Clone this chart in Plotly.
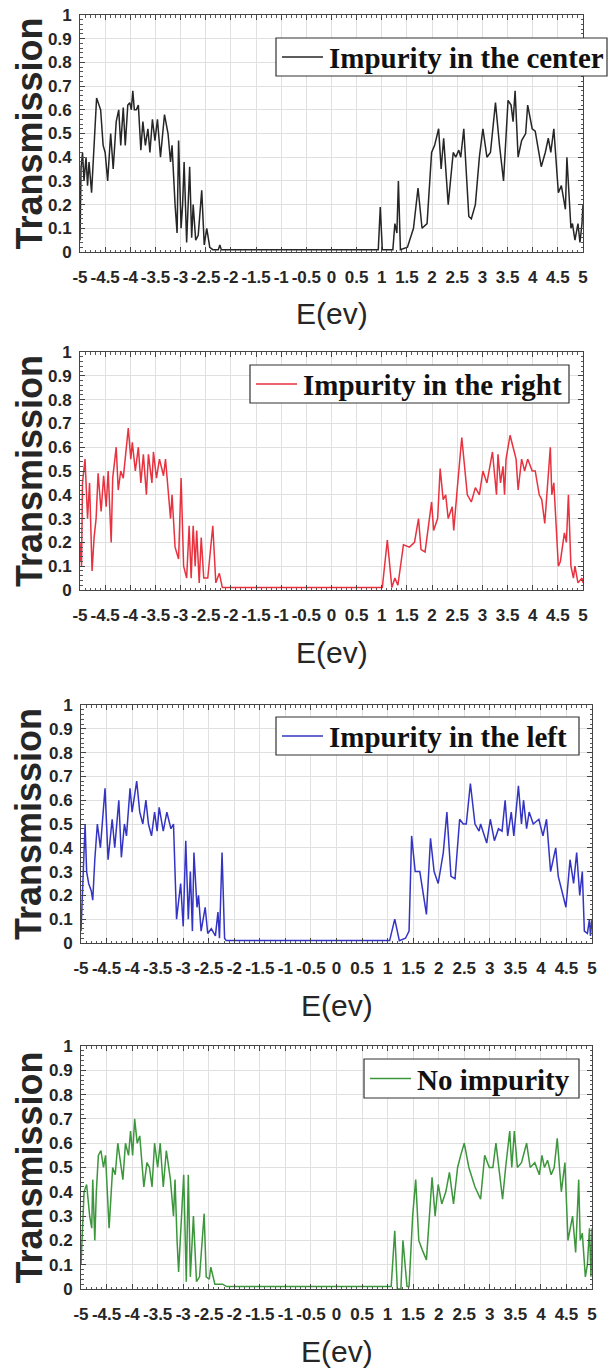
import plotly.graph_objects as go

W, H = 608, 1372

# ---------------- data ----------------
E_center = [-5.00, -4.98, -4.95, -4.92, -4.88, -4.85, -4.82, -4.77, -4.67, -4.59, -4.54, -4.50,
            -4.45, -4.39, -4.34, -4.28, -4.23, -4.19, -4.14, -4.10, -4.05, -4.01, -3.98, -3.95,
            -3.92, -3.88, -3.84, -3.79, -3.75, -3.70, -3.65, -3.61, -3.56, -3.51, -3.46, -3.40,
            -3.32, -3.25, -3.20, -3.17, -3.11, -3.07, -3.04, -2.99, -2.96, -2.93, -2.88, -2.82,
            -2.78, -2.75, -2.70, -2.65, -2.58, -2.53, -2.48, -2.42, -2.36, -2.25, -2.22, -2.19,
            0.93, 0.97, 1.01, 1.22, 1.26, 1.30, 1.33, 1.37, 1.51, 1.63, 1.72, 1.80, 1.90, 1.99,
            2.05, 2.13, 2.18, 2.23, 2.32, 2.42, 2.47, 2.53, 2.57, 2.63, 2.73, 2.78, 2.86, 2.94,
            3.01, 3.09, 3.16, 3.26, 3.34, 3.42, 3.51, 3.57, 3.61, 3.65, 3.71, 3.78, 3.86, 3.90,
            3.99, 4.05, 4.17, 4.25, 4.31, 4.36, 4.42, 4.51, 4.57, 4.65, 4.68, 4.76, 4.79, 4.84,
            4.90, 4.94, 4.98, 5.00]
T_center = [0.05, 0.35, 0.42, 0.30, 0.40, 0.28, 0.38, 0.25, 0.65, 0.60, 0.45, 0.42,
            0.30, 0.50, 0.35, 0.55, 0.60, 0.45, 0.61, 0.45, 0.62, 0.63, 0.60, 0.68,
            0.60, 0.60, 0.62, 0.43, 0.55, 0.45, 0.52, 0.42, 0.56, 0.47, 0.56, 0.40,
            0.58, 0.50, 0.38, 0.45, 0.20, 0.08, 0.47, 0.10, 0.20, 0.38, 0.04, 0.36,
            0.06, 0.20, 0.05, 0.07, 0.26, 0.03, 0.10, 0.02, 0.01, 0.01, 0.03, 0.01,
            0.01, 0.19, 0.01, 0.01, 0.12, 0.08, 0.30, 0.01, 0.02, 0.10, 0.27, 0.10, 0.12, 0.42,
            0.45, 0.52, 0.35, 0.48, 0.20, 0.42, 0.40, 0.43, 0.40, 0.52, 0.15, 0.14, 0.20, 0.40,
            0.52, 0.40, 0.42, 0.63, 0.45, 0.30, 0.64, 0.62, 0.55, 0.68, 0.40, 0.47, 0.50, 0.62,
            0.52, 0.51, 0.36, 0.42, 0.48, 0.42, 0.52, 0.25, 0.28, 0.18, 0.40, 0.10, 0.12, 0.05,
            0.12, 0.04, 0.12, 0.20]

E_right = [-5.00, -4.98, -4.97, -4.95, -4.90, -4.85, -4.81, -4.76, -4.72, -4.68, -4.64, -4.58,
           -4.53, -4.48, -4.44, -4.38, -4.35, -4.28, -4.24, -4.19, -4.14, -4.10, -4.04, -3.99,
           -3.96, -3.90, -3.84, -3.79, -3.74, -3.68, -3.64, -3.57, -3.54, -3.48, -3.42, -3.34,
           -3.30, -3.20, -3.17, -3.11, -3.04, -2.99, -2.94, -2.88, -2.83, -2.79, -2.75, -2.71,
           -2.68, -2.63, -2.59, -2.54, -2.46, -2.36, -2.30, -2.23, -2.17,
           1.01, 1.11, 1.20, 1.26, 1.32, 1.43, 1.55, 1.65, 1.73, 1.78, 1.86, 1.99, 2.03, 2.11,
           2.16, 2.22, 2.27, 2.32, 2.40, 2.43, 2.51, 2.59, 2.70, 2.78, 2.86, 2.94, 3.01, 3.09,
           3.20, 3.28, 3.31, 3.36, 3.41, 3.44, 3.47, 3.55, 3.61, 3.67, 3.71, 3.78, 3.84, 3.90,
           3.99, 4.05, 4.13, 4.18, 4.24, 4.35, 4.38, 4.42, 4.51, 4.55, 4.63, 4.67, 4.71, 4.76,
           4.81, 4.84, 4.90, 4.98, 5.00]
T_right = [0.12, 0.20, 0.10, 0.45, 0.55, 0.30, 0.45, 0.08, 0.22, 0.30, 0.49, 0.33,
           0.48, 0.35, 0.50, 0.20, 0.47, 0.60, 0.42, 0.50, 0.47, 0.55, 0.68, 0.55,
           0.62, 0.50, 0.60, 0.45, 0.57, 0.40, 0.57, 0.45, 0.58, 0.47, 0.55, 0.48,
           0.55, 0.30, 0.40, 0.18, 0.13, 0.47, 0.10, 0.05, 0.27, 0.05, 0.27, 0.10,
           0.25, 0.03, 0.22, 0.05, 0.05, 0.27, 0.03, 0.07, 0.01,
           0.01, 0.21, 0.01, 0.05, 0.02, 0.19, 0.18, 0.20, 0.30, 0.17, 0.16, 0.37, 0.25, 0.30,
           0.51, 0.38, 0.40, 0.30, 0.35, 0.25, 0.45, 0.64, 0.40, 0.37, 0.43, 0.40, 0.50, 0.45,
           0.58, 0.40, 0.57, 0.45, 0.52, 0.40, 0.55, 0.65, 0.60, 0.55, 0.42, 0.55, 0.50, 0.55,
           0.50, 0.50, 0.40, 0.38, 0.28, 0.60, 0.40, 0.45, 0.10, 0.12, 0.24, 0.20, 0.40, 0.10,
           0.05, 0.10, 0.03, 0.05, 0.03]

E_left = [-5.00, -4.97, -4.92, -4.89, -4.85, -4.80, -4.77, -4.73, -4.68, -4.62, -4.53, -4.47,
          -4.39, -4.34, -4.26, -4.21, -4.15, -4.11, -4.04, -4.00, -3.91, -3.85, -3.79, -3.73,
          -3.68, -3.62, -3.56, -3.51, -3.47, -3.39, -3.32, -3.24, -3.19, -3.13, -3.05, -3.00,
          -2.95, -2.90, -2.86, -2.82, -2.79, -2.73, -2.70, -2.65, -2.57, -2.52, -2.45, -2.37,
          -2.32, -2.29, -2.24, -2.19, -2.16,
          1.04, 1.14, 1.23, 1.35, 1.42, 1.47, 1.54, 1.63, 1.76, 1.84, 1.91, 1.99, 2.09, 2.16,
          2.24, 2.32, 2.41, 2.48, 2.54, 2.62, 2.71, 2.79, 2.82, 2.94, 3.01, 3.09, 3.17, 3.24,
          3.30, 3.35, 3.42, 3.47, 3.56, 3.62, 3.66, 3.72, 3.77, 3.85, 3.96, 4.04, 4.11, 4.19,
          4.29, 4.34, 4.49, 4.57, 4.64, 4.70, 4.76, 4.81, 4.85, 4.91, 4.95, 4.97, 5.00]
T_left = [0.05, 0.20, 0.50, 0.30, 0.25, 0.22, 0.18, 0.35, 0.50, 0.40, 0.65, 0.35,
          0.52, 0.40, 0.60, 0.36, 0.50, 0.45, 0.65, 0.55, 0.68, 0.55, 0.50, 0.60,
          0.50, 0.45, 0.55, 0.47, 0.57, 0.47, 0.55, 0.48, 0.50, 0.10, 0.25, 0.07,
          0.43, 0.10, 0.30, 0.05, 0.38, 0.15, 0.20, 0.05, 0.15, 0.04, 0.06, 0.03,
          0.13, 0.02, 0.38, 0.02, 0.01,
          0.01, 0.10, 0.01, 0.02, 0.05, 0.45, 0.30, 0.30, 0.12, 0.44, 0.30, 0.25, 0.38, 0.55,
          0.28, 0.27, 0.52, 0.50, 0.50, 0.67, 0.50, 0.47, 0.50, 0.42, 0.52, 0.43, 0.48, 0.47,
          0.60, 0.45, 0.55, 0.45, 0.66, 0.50, 0.60, 0.48, 0.55, 0.50, 0.52, 0.45, 0.52, 0.30,
          0.40, 0.28, 0.15, 0.35, 0.25, 0.38, 0.20, 0.30, 0.05, 0.04, 0.10, 0.03, 0.10]

E_none = [-5.00, -4.94, -4.89, -4.83, -4.79, -4.77, -4.73, -4.70, -4.66, -4.61, -4.56, -4.52,
          -4.45, -4.38, -4.33, -4.28, -4.18, -4.13, -4.07, -4.03, -3.99, -3.95, -3.90, -3.85,
          -3.77, -3.71, -3.66, -3.61, -3.56, -3.50, -3.45, -3.39, -3.33, -3.25, -3.19, -3.16,
          -3.12, -3.09, -2.99, -2.94, -2.90, -2.86, -2.80, -2.74, -2.68, -2.59, -2.55, -2.49,
          -2.46, -2.38, -2.23, -2.15,
          1.07, 1.14, 1.19, 1.26, 1.30, 1.38, 1.42, 1.49, 1.55, 1.61, 1.68, 1.76, 1.87, 1.93,
          1.99, 2.06, 2.14, 2.21, 2.29, 2.37, 2.43, 2.50, 2.59, 2.71, 2.82, 2.90, 2.99, 3.06,
          3.12, 3.20, 3.25, 3.31, 3.39, 3.43, 3.48, 3.54, 3.62, 3.72, 3.79, 3.88, 3.97, 4.02,
          4.07, 4.13, 4.20, 4.26, 4.32, 4.40, 4.47, 4.53, 4.62, 4.68, 4.74, 4.77, 4.81, 4.87,
          4.91, 4.95, 4.98, 5.00]
T_none = [0.10, 0.40, 0.43, 0.30, 0.25, 0.45, 0.20, 0.40, 0.55, 0.57, 0.50, 0.55,
          0.25, 0.50, 0.47, 0.60, 0.45, 0.60, 0.55, 0.65, 0.55, 0.70, 0.60, 0.63,
          0.42, 0.52, 0.50, 0.42, 0.60, 0.50, 0.60, 0.42, 0.57, 0.45, 0.30, 0.45,
          0.20, 0.07, 0.47, 0.03, 0.47, 0.05, 0.30, 0.03, 0.05, 0.31, 0.05, 0.04,
          0.09, 0.02, 0.02, 0.01,
          0.01, 0.24, 0.00, 0.00, 0.20, 0.01, 0.01, 0.30, 0.45, 0.20, 0.16, 0.12, 0.46, 0.30,
          0.43, 0.35, 0.40, 0.48, 0.35, 0.50, 0.55, 0.60, 0.50, 0.42, 0.37, 0.55, 0.50, 0.50,
          0.60, 0.45, 0.37, 0.50, 0.65, 0.50, 0.65, 0.50, 0.52, 0.60, 0.50, 0.52, 0.47, 0.55,
          0.50, 0.53, 0.47, 0.50, 0.62, 0.40, 0.52, 0.20, 0.30, 0.15, 0.45, 0.20, 0.23, 0.05,
          0.10, 0.25, 0.05, 0.25]

x_tick_vals = [-5, -4.5, -4, -3.5, -3, -2.5, -2, -1.5, -1, -0.5, 0, 0.5, 1, 1.5, 2, 2.5, 3, 3.5, 4, 4.5, 5]
x_tick_text = ['-5', '-4.5', '-4', '-3.5', '-3', '-2.5', '-2', '-1.5', '-1', '-0.5', '0', '0.5',
               '1', '1.5', '2', '2.5', '3', '3.5', '4', '4.5', '5']
y_tick_vals = [0, 0.1, 0.2, 0.3, 0.4, 0.5, 0.6, 0.7, 0.8, 0.9, 1]
y_tick_text = ['0', '0.1', '0.2', '0.3', '0.4', '0.5', '0.6', '0.7', '0.8', '0.9', '1']

series_names = ['Impurity in the center', 'Impurity in the right', 'Impurity in the left', 'No impurity']
series_E = [E_center, E_right, E_left, E_none]
series_T = [T_center, T_right, T_left, T_none]
series_colors = ['#262626', '#e8323f', '#3434c4', '#3c963c']

x_title = 'E(ev)'
y_title = 'Transmission'

# ---------------- layout (pixel geometry) ----------------
# plot boxes: (left, right, top, bottom) in pixels
boxes = [(80, 583, 15, 252), (80, 583, 352, 590), (81, 592, 705, 943), (81, 592, 1046, 1289)]
# legend boxes: (left, right, top, bottom) in pixels
legend_boxes = [(276, 607, 38, 76), (250, 569, 365, 403), (276, 579, 717, 755), (364, 579, 1059, 1098)]


def px_x(p):
    return p / W


def px_y(p):
    return 1 - p / H


fig = go.Figure()
layout = dict(
    width=W, height=H,
    margin=dict(l=0, r=0, t=0, b=0),
    paper_bgcolor='white', plot_bgcolor='white',
    showlegend=False,
    annotations=[], shapes=[],
)

tick_font = dict(family='Liberation Sans, Arial, sans-serif', size=17, color='#262626', weight='bold')
legend_font = dict(family='Liberation Serif, Times New Roman, serif', size=29, color='#111', weight='bold')

for i in range(4):
    n = '' if i == 0 else str(i + 1)
    l, r, t, b = boxes[i]
    fig.add_trace(go.Scatter(
        x=series_E[i], y=series_T[i], mode='lines', name=series_names[i],
        line=dict(color=series_colors[i], width=1.5),
        xaxis='x' + n, yaxis='y' + n,
    ))
    layout['xaxis' + n] = dict(
        domain=[px_x(l), px_x(r)], anchor='y' + n, range=[-5, 5],
        tickmode='array', tickvals=x_tick_vals, ticktext=x_tick_text, tickangle=0,
        tickfont=tick_font, ticks='inside', ticklen=5, tickcolor='#444',
        mirror='allticks', showline=True, linecolor='#444', linewidth=1,
        showgrid=True, gridcolor='#e0e0e0', gridwidth=1, zeroline=False,
        minor=dict(dtick=0.1, ticks='inside', ticklen=2.5, tickcolor='#555', showgrid=False),
        ticklabelstandoff=10, automargin=False, fixedrange=True,
    )
    layout['yaxis' + n] = dict(
        domain=[px_y(b), px_y(t)], anchor='x' + n, range=[0, 1],
        tickmode='array', tickvals=y_tick_vals, ticktext=y_tick_text,
        tickfont=tick_font, ticks='inside', ticklen=5, tickcolor='#444',
        mirror='allticks', showline=True, linecolor='#444', linewidth=1,
        showgrid=True, gridcolor='#e0e0e0', gridwidth=1, zeroline=False,
        minor=dict(dtick=0.02, ticks='inside', ticklen=2.5, tickcolor='#555', showgrid=False),
        ticklabelstandoff=4, automargin=False, fixedrange=True,
    )

    # legend box drawn as shapes + text
    bl, br, bt, bb = legend_boxes[i]
    yc = (bt + bb) / 2
    layout['shapes'].append(dict(
        type='rect', xref='paper', yref='paper',
        x0=px_x(bl), x1=px_x(br), y0=px_y(bb), y1=px_y(bt),
        line=dict(color='#333', width=1.2), fillcolor='white', layer='above',
    ))
    layout['shapes'].append(dict(
        type='line', xref='paper', yref='paper',
        x0=px_x(bl + 6), x1=px_x(bl + 47), y0=px_y(yc), y1=px_y(yc),
        line=dict(color=series_colors[i], width=1.5), layer='above',
    ))
    layout['annotations'].append(dict(
        text=series_names[i], showarrow=False,
        xref='paper', yref='paper', x=px_x(bl + 51), y=px_y(yc + 1),
        xanchor='left', yanchor='middle', font=legend_font,
    ))

    # axis titles
    layout['annotations'].append(dict(
        text=y_title, textangle=-90, showarrow=False,
        xref='paper', yref='paper', x=px_x(29), y=px_y((t + b) / 2),
        xanchor='center', yanchor='middle',
        font=dict(family='Liberation Sans, Arial, sans-serif', size=36, color='#262626', weight='bold'),
    ))
    layout['annotations'].append(dict(
        text=x_title, showarrow=False,
        xref='paper', yref='paper', x=px_x((l + r) / 2), y=px_y(b + 62),
        xanchor='center', yanchor='middle',
        font=dict(family='Liberation Sans, Arial, sans-serif', size=30, color='#262626'),
    ))

fig.update_layout(**layout)
fig.write_html('out.html')
